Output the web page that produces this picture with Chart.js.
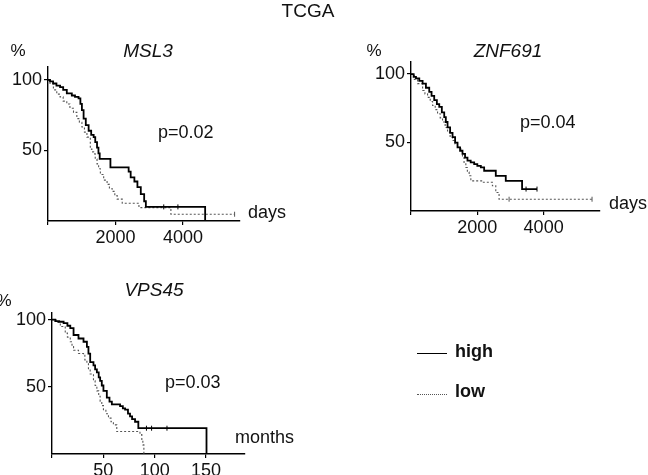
<!DOCTYPE html>
<html>
<head>
<meta charset="utf-8">
<script src="https://cdn.jsdelivr.net/npm/chart.js@4/dist/chart.umd.min.js"></script>
<style>
  body { margin: 0; background: #fff; }
  #wrap { position: relative; width: 648px; height: 475px; overflow: hidden;
          font-family: "Liberation Sans", Arial, sans-serif; color: #111; }
  canvas { position: absolute; left: 0; top: 0; }
  .c { position: absolute; transform: translate(-50%, -50%); line-height: 1; white-space: nowrap; font-size: 18px; }
  .l { position: absolute; transform: translateY(-50%); line-height: 1; white-space: nowrap; font-size: 18px; }
  .gene { font-style: italic; font-size: 19px; }
  .key { position: absolute; width: 30px; height: 0; }
</style>
</head>
<body>
<div id="wrap">
  <canvas id="msl3" width="648" height="475"></canvas>
  <canvas id="znf691" width="648" height="475"></canvas>
  <canvas id="vps45" width="648" height="475"></canvas>

  <div class="c" style="left:308px;top:10px;font-size:19px;">TCGA</div>

  <div class="c gene" style="left:148px;top:50px;">MSL3</div>
  <div class="c" style="left:18px;top:50px;font-size:17px;">%</div>
  <div class="l" style="left:158px;top:132px;">p=0.02</div>
  <div class="l" style="left:248px;top:212px;">days</div>

  <div class="c gene" style="left:508px;top:50px;">ZNF691</div>
  <div class="c" style="left:374px;top:50px;font-size:17px;">%</div>
  <div class="l" style="left:520px;top:122px;">p=0.04</div>
  <div class="l" style="left:609px;top:203px;">days</div>

  <div class="c gene" style="left:154px;top:289px;">VPS45</div>
  <div class="c" style="left:4px;top:300px;font-size:17px;">%</div>
  <div class="l" style="left:165px;top:382px;">p=0.03</div>
  <div class="l" style="left:235px;top:437px;">months</div>

  <div class="key" style="left:417px;top:353px;border-top:1.6px solid #000;"></div>
  <div class="l" style="left:455px;top:351px;font-weight:bold;">high</div>
  <div class="key" style="left:417px;top:394px;border-top:1px dotted #555;"></div>
  <div class="l" style="left:455px;top:391px;font-weight:bold;">low</div>
</div>

<script>
// tick positions
const dayTicks = [0, 2000, 4000];
const monthTicks = [0, 50, 100, 150];
const pctTicks = [50, 100];

// MSL3 (days, % surviving)
const msl3HighDays = [0, 60, 150, 250, 358, 450, 557, 706, 800, 905, 960, 1005, 1055, 1120, 1204, 1280, 1353, 1400, 1453, 1495, 1532, 1850, 2390, 2450, 2560, 2650, 2750, 2850, 2900, 4657];
const msl3HighPct  = [100, 99, 97.5, 96, 95, 93, 90.5, 89, 88, 87, 83, 78.6, 72.6, 68, 64, 61, 59.5, 56, 52, 48, 44, 38, 35, 31, 28, 24, 19, 14, 10, 0];
const msl3LowDays  = [0, 60, 160, 260, 358, 450, 557, 650, 756, 855, 930, 1005, 1080, 1154, 1254, 1300, 1353, 1400, 1453, 1500, 1552, 1650, 1751, 1820, 1900, 1980, 2050, 2200, 2695, 3642, 5530];
const msl3LowPct   = [100, 97.6, 93, 90, 88, 85, 83, 80, 77, 72.6, 70, 66.7, 63, 59.5, 51, 49, 47.6, 44, 40.5, 37, 33, 29, 26, 23, 21, 18, 15.5, 12.6, 9.5, 4.8, 4.8];
const msl3HighCens = [[3430, 10], [3850, 10]];
const msl3LowCens  = [[5530, 4.8]];

// ZNF691 (days, % surviving)
const znfHighDays = [0, 80, 150, 250, 350, 450, 550, 620, 700, 780, 852, 930, 1002, 1050, 1102, 1180, 1253, 1330, 1403, 1480, 1553, 1630, 1703, 1800, 1905, 2000, 2106, 2206, 2557, 2858, 3350, 3800];
const znfHighPct  = [100, 98, 96.8, 95, 93, 90, 87, 84, 81, 78, 76, 72, 68.6, 65, 61, 57, 54, 50, 46.5, 44, 41.7, 39, 36.8, 35.5, 34.3, 33, 31.8, 29.4, 25.7, 22, 16, 16];
const znfLowDays  = [0, 100, 200, 350, 420, 500, 580, 651, 730, 801, 880, 951, 1030, 1102, 1180, 1253, 1330, 1403, 1504, 1553, 1600, 1654, 1700, 1754, 1805, 2155, 2455, 2557, 2656, 5460];
const znfLowPct   = [100, 96, 93, 88, 85.5, 83, 80, 77, 74, 71, 68, 65, 61, 57.6, 54.5, 51.5, 49, 46.5, 44, 39, 35, 31.8, 28.5, 25.7, 22, 21, 18.4, 13.5, 8.6, 8.6];
const znfHighCens = [[3470, 16], [3800, 16]];
const znfLowCens  = [[2958, 8.6], [5460, 8.6]];

// VPS45 (months, % surviving)
const vpsHighMonths = [0, 3.2, 7, 11.3, 15, 17.8, 21, 25.8, 30.7, 34, 35.5, 37.2, 40.4, 42, 43.7, 45.5, 46.9, 48.5, 50.1, 53.4, 56, 58.3, 66.3, 69, 71.2, 74, 76, 78, 80.9, 84.1, 150.5];
const vpsHighPct    = [100, 99, 98.5, 97.5, 95.5, 93.7, 88.6, 86, 83.6, 79.8, 74.8, 68.4, 66, 63, 60.8, 57, 54.5, 51, 47, 42, 39, 37, 35.6, 34, 33, 30, 28, 26, 24, 19.2, 0];
const vpsLowMonths  = [0, 4, 8.1, 12.9, 15, 17.8, 19.5, 21, 25.8, 30.7, 32, 34, 35.5, 37.2, 40.4, 42, 43.7, 45.5, 46.9, 48.5, 50.1, 52.5, 55, 57.5, 59.8, 63.1, 85.7, 87.5, 88.5, 89.5];
const vpsLowPct     = [100, 98, 95, 90, 87, 83.6, 80, 77.3, 74.8, 73.5, 70, 67.2, 63, 59.6, 54.5, 51, 47, 43, 39.4, 36, 33, 30, 26.7, 24, 21.7, 16.7, 14.4, 10, 6.8, 0];
const vpsHighCens   = [[92, 19.2], [97, 19.2], [112, 19.2]];
const vpsLowCens    = [];

const FONT = { family: '"Liberation Sans", Arial, sans-serif', size: 18 };

function pts(xs, ys) {
  return xs.map((x, i) => ({ x: x, y: ys[i] }));
}

function kmChart(id, area, xMax, yMax, xTicks, high, low, highCens, lowCens) {
  const yW = 40, xH = 30;
  const axisStyle = {
    grid: { drawOnChartArea: false, drawTicks: true, tickLength: 4, color: '#000', lineWidth: 1.2 },
    border: { display: true, color: '#000', width: 1.4 },
    ticks: { color: '#111', font: FONT, padding: 2, autoSkip: false, maxRotation: 0,
             callback: v => v === 0 ? '' : String(v) }
  };
  return new Chart(document.getElementById(id), {
    type: 'line',
    data: {
      datasets: [
        { data: high, borderColor: '#000', borderWidth: 1.8, stepped: 'before', pointRadius: 0, fill: false },
        { data: low, borderColor: '#555', borderWidth: 1.1, borderDash: [2, 2], stepped: 'before', pointRadius: 0, fill: false },
        { data: highCens.map(p => ({ x: p[0], y: p[1] })), showLine: false, pointStyle: 'line', rotation: 90,
          pointRadius: 2.5, borderColor: '#000', borderWidth: 1 },
        { data: lowCens.map(p => ({ x: p[0], y: p[1] })), showLine: false, pointStyle: 'line', rotation: 90,
          pointRadius: 2.5, borderColor: '#555', borderWidth: 1 }
      ]
    },
    options: {
      responsive: false,
      animation: false,
      layout: { padding: { left: area.left - yW, right: 648 - area.right, top: area.top, bottom: 475 - area.bottom - xH } },
      plugins: { legend: { display: false }, tooltip: { enabled: false } },
      scales: {
        x: Object.assign({}, axisStyle, {
          type: 'linear', min: 0, max: xMax,
          afterFit: s => { s.height = xH; },
          afterBuildTicks: s => { s.ticks = xTicks.map(v => ({ value: v })); }
        }),
        y: Object.assign({}, axisStyle, {
          type: 'linear', min: 0, max: yMax,
          afterFit: s => { s.width = yW; },
          afterBuildTicks: s => { s.ticks = pctTicks.map(v => ({ value: v })); }
        })
      }
    }
  });
}

kmChart('msl3', { left: 48, right: 240, top: 67, bottom: 221 }, 5690, 109.2, dayTicks,
  pts(msl3HighDays, msl3HighPct), pts(msl3LowDays, msl3LowPct), msl3HighCens, msl3LowCens);

kmChart('znf691', { left: 411, right: 600, top: 62, bottom: 211 }, 5700, 108.8, dayTicks,
  pts(znfHighDays, znfHighPct), pts(znfLowDays, znfLowPct), znfHighCens, znfLowCens);

kmChart('vps45', { left: 52, right: 245, top: 313, bottom: 454 }, 188, 105, monthTicks,
  pts(vpsHighMonths, vpsHighPct), pts(vpsLowMonths, vpsLowPct), vpsHighCens, vpsLowCens);
</script>
</body>
</html>
